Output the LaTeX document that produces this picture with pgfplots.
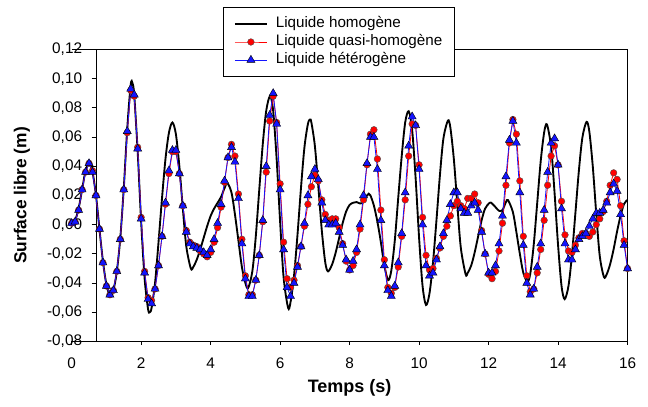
\documentclass[border=0pt]{standalone}
\usepackage{fontspec}
\setmainfont{Liberation Sans}
\usepackage{pgfplots}
\usepackage{pgfplotstable}
\pgfplotsset{compat=1.18}

\definecolor{redq}{RGB}{255,0,0}
\definecolor{blueh}{RGB}{20,20,255}

% liquide homogene (courbe continue)
\pgfplotstableread{
t v
0.0 0.000
0.1 0.003
0.2 0.011
0.3 0.024
0.4 0.037
0.5 0.042
0.6 0.036
0.7 0.020
0.8 -0.003
0.9 -0.025
1.0 -0.041
1.1 -0.048
1.2 -0.045
1.3 -0.032
1.4 -0.009
1.5 0.025
1.6 0.066
1.7 0.096
1.75 0.097
1.8 0.089
1.9 0.050
2.0 0.002
2.1 -0.037
2.2 -0.058
2.25 -0.060
2.3 -0.057
2.4 -0.040
2.5 -0.012
2.6 0.018
2.7 0.045
2.8 0.063
2.9 0.070
3.0 0.062
3.1 0.040
3.2 0.011
3.3 -0.015
3.43 -0.030
3.5 -0.029
3.6 -0.024
3.7 -0.017
3.8 -0.009
3.9 -0.001
4.0 0.006
4.1 0.011
4.2 0.015
4.3 0.019
4.4 0.025
4.48 0.0285
4.6 0.022
4.7 0.007
4.8 -0.011
4.9 -0.029
5.0 -0.040
5.08 -0.0434
5.2 -0.032
5.3 -0.008
5.4 0.024
5.5 0.055
5.6 0.078
5.71 0.088
5.8 0.078
5.9 0.045
6.0 0.002
6.1 -0.036
6.23 -0.057
6.3 -0.053
6.4 -0.035
6.5 -0.007
6.6 0.025
6.7 0.053
6.8 0.069
6.86 0.072
6.9 0.070
7.0 0.054
7.1 0.026
7.2 -0.004
7.3 -0.026
7.38 -0.032
7.5 -0.027
7.6 -0.019
7.7 -0.009
7.8 0.001
7.9 0.009
8.0 0.0135
8.1 0.015
8.2 0.0155
8.3 0.0145
8.4 0.0155
8.5 0.020
8.55 0.0212
8.6 0.020
8.7 0.013
8.8 0.002
8.9 -0.012
9.0 -0.028
9.11 -0.038
9.2 -0.0315
9.3 -0.011
9.4 0.0185
9.5 0.047
9.6 0.070
9.70 0.0777
9.8 0.065
9.9 0.032
10.0 -0.009
10.1 -0.042
10.2 -0.055
10.3 -0.047
10.4 -0.026
10.5 0.003
10.6 0.034
10.7 0.059
10.83 0.0713
10.9 0.0665
11.0 0.045
11.1 0.014
11.2 -0.0156
11.34 -0.034
11.4 -0.033
11.5 -0.028
11.6 -0.019
11.7 -0.008
11.8 0.003
11.9 0.011
12.03 0.015
12.1 0.0145
12.2 0.012
12.3 0.0095
12.4 0.010
12.5 0.0155
12.56 0.0168
12.7 0.0086
12.8 -0.005
12.9 -0.020
13.0 -0.033
13.12 -0.039
13.2 -0.0336
13.3 -0.0137
13.4 0.0148
13.5 0.0433
13.6 0.0632
13.68 0.0686
13.8 0.053
13.9 0.0216
14.0 -0.0139
14.1 -0.042
14.19 -0.051
14.3 -0.042
14.4 -0.0207
14.5 0.0082
14.6 0.0371
14.7 0.0596
14.82 0.0704
14.9 0.0638
15.0 0.0398
15.1 0.0073
15.2 -0.0214
15.32 -0.0358
15.4 -0.034
15.5 -0.027
15.6 -0.0167
15.7 -0.0045
15.8 0.0062
15.9 0.0142
16.0 0.017
}\homog

% liquide quasi-homogene
\pgfplotstableread{
t v
0.0 0.001
0.1 0.002
0.2 0.010
0.3 0.024
0.4 0.036
0.5 0.042
0.6 0.037
0.7 0.020
0.8 -0.003
0.9 -0.026
1.0 -0.042
1.1 -0.048
1.2 -0.045
1.3 -0.032
1.4 -0.010
1.5 0.024
1.6 0.063
1.7 0.092
1.8 0.088
1.9 0.053
2.0 0.005
2.1 -0.032
2.2 -0.050
2.3 -0.052
2.4 -0.044
2.5 -0.028
2.6 -0.008
2.7 0.014
2.8 0.035
2.9 0.050
3.0 0.050
3.1 0.035
3.2 0.013
3.3 -0.004
3.4 -0.012
3.5 -0.014
3.6 -0.015
3.7 -0.018
3.8 -0.020
3.9 -0.022
4.0 -0.019
4.1 -0.012
4.2 -0.002
4.3 0.012
4.4 0.029
4.5 0.046
4.6 0.055
4.7 0.047
4.8 0.021
4.9 -0.010
5.0 -0.035
5.1 -0.048
5.2 -0.048
5.3 -0.038
5.4 -0.021
5.5 0.002
5.6 0.036
5.7 0.071
5.8 0.088
5.9 0.070
6.0 0.028
6.1 -0.012
6.2 -0.037
6.3 -0.043
6.4 -0.038
6.5 -0.028
6.6 -0.015
6.7 -0.001
6.8 0.014
6.9 0.026
7.0 0.034
7.1 0.030
7.2 0.017
7.3 0.007
7.4 0.003
7.5 0.004
7.6 0.004
7.7 -0.002
7.8 -0.013
7.9 -0.025
8.0 -0.031
8.1 -0.028
8.2 -0.019
8.3 -0.003
8.4 0.017
8.5 0.041
8.6 0.062
8.7 0.065
8.8 0.045
8.9 0.010
9.0 -0.024
9.1 -0.043
9.2 -0.047
9.3 -0.043
9.4 -0.029
9.5 -0.008
9.6 0.017
9.7 0.047
9.8 0.069
9.9 0.068
10.0 0.041
10.1 0.005
10.2 -0.021
10.3 -0.031
10.4 -0.030
10.5 -0.023
10.6 -0.016
10.7 -0.008
10.8 -0.001
10.9 0.006
11.0 0.013
11.1 0.016
11.2 0.013
11.3 0.011
11.4 0.018
11.5 0.018
11.6 0.021
11.7 0.015
11.8 -0.004
11.9 -0.020
12.0 -0.034
12.1 -0.037
12.2 -0.032
12.3 -0.018
12.4 0.001
12.5 0.027
12.6 0.056
12.7 0.072
12.8 0.062
12.9 0.030
13.0 -0.008
13.1 -0.035
13.2 -0.046
13.3 -0.044
13.4 -0.033
13.5 -0.017
13.6 0.003
13.7 0.027
13.8 0.047
13.9 0.054
14.0 0.041
14.1 0.016
14.2 -0.007
14.3 -0.018
14.4 -0.019
14.5 -0.014
14.6 -0.009
14.7 -0.006
14.8 -0.006
14.9 -0.008
15.0 -0.005
15.1 0.000
15.2 0.004
15.3 0.009
15.4 0.016
15.5 0.027
15.6 0.0355
15.7 0.031
15.8 0.013
15.9 -0.011
16.0 -0.030
}\quasi

% liquide heterogene
\pgfplotstableread{
t v
0.0 0.001
0.1 0.002
0.2 0.010
0.3 0.024
0.4 0.036
0.5 0.042
0.6 0.036
0.7 0.020
0.8 -0.003
0.9 -0.026
1.0 -0.042
1.1 -0.048
1.2 -0.045
1.3 -0.032
1.4 -0.010
1.5 0.024
1.6 0.064
1.7 0.093
1.8 0.089
1.9 0.052
2.0 0.004
2.1 -0.033
2.2 -0.051
2.3 -0.054
2.4 -0.044
2.5 -0.028
2.6 -0.008
2.7 0.015
2.8 0.037
2.9 0.051
3.0 0.051
3.1 0.035
3.2 0.013
3.3 -0.005
3.4 -0.013
3.5 -0.015
3.6 -0.016
3.7 -0.017
3.8 -0.019
3.9 -0.021
4.0 -0.017
4.1 -0.010
4.2 0.001
4.3 0.014
4.4 0.030
4.5 0.046
4.6 0.053
4.7 0.043
4.8 0.018
4.9 -0.013
5.0 -0.037
5.1 -0.049
5.2 -0.049
5.3 -0.038
5.4 -0.021
5.5 0.003
5.6 0.040
5.7 0.075
5.8 0.090
5.9 0.069
6.0 0.024
6.1 -0.017
6.2 -0.043
6.3 -0.049
6.4 -0.040
6.5 -0.029
6.6 -0.015
6.7 0.001
6.8 0.020
6.9 0.033
7.0 0.038
7.1 0.031
7.2 0.015
7.3 0.003
7.4 0.000
7.5 0.000
7.6 0.001
7.7 -0.005
7.8 -0.014
7.9 -0.024
8.0 -0.031
8.1 -0.025
8.2 -0.017
8.3 0.000
8.4 0.020
8.5 0.042
8.6 0.060
8.7 0.060
8.8 0.038
8.9 0.003
9.0 -0.028
9.1 -0.045
9.2 -0.049
9.3 -0.042
9.4 -0.026
9.5 -0.006
9.6 0.022
9.7 0.054
9.8 0.074
9.9 0.068
10.0 0.038
10.1 0.000
10.2 -0.028
10.3 -0.035
10.4 -0.033
10.5 -0.024
10.6 -0.015
10.7 -0.006
10.8 0.003
10.9 0.014
11.0 0.022
11.1 0.022
11.2 0.011
11.3 0.008
11.4 0.008
11.5 0.013
11.6 0.015
11.7 0.010
11.8 -0.005
11.9 -0.020
12.0 -0.033
12.1 -0.033
12.2 -0.028
12.3 -0.013
12.4 0.006
12.5 0.033
12.6 0.058
12.7 0.071
12.8 0.056
12.9 0.022
13.0 -0.014
13.1 -0.040
13.2 -0.048
13.3 -0.044
13.4 -0.029
13.5 -0.013
13.6 0.010
13.7 0.036
13.8 0.056
13.9 0.059
14.0 0.041
14.1 0.011
14.2 -0.013
14.3 -0.024
14.4 -0.024
14.5 -0.017
14.6 -0.010
14.7 -0.008
14.8 -0.006
14.9 -0.001
15.0 0.004
15.1 0.008
15.2 0.008
15.3 0.010
15.4 0.015
15.5 0.022
15.6 0.028
15.7 0.023
15.8 0.007
15.9 -0.014
16.0 -0.030
}\hetero

\begin{document}
\begin{tikzpicture}
\useasboundingbox (-72.5pt,-49.1pt) rectangle (413.5pt,256.1pt);

% cadre + axe des ordonnees (commence vers t = 0,72 s comme dans l'original)
\begin{axis}[
  at={(0pt,0pt)}, anchor=south west,
  scale only axis, width=398.1pt, height=219pt,
  xmin=0.717, xmax=16, ymin=-0.08, ymax=0.12,
  axis line style={line width=0.7pt},
  xtick=\empty,
  ytick={-0.08,-0.06,-0.04,-0.02,0,0.02,0.04,0.06,0.08,0.10,0.12},
  yticklabels={{-0,08},{-0,06},{-0,04},{-0,02},{0,00},{0,02},{0,04},{0,06},{0,08},{0,10},{0,12}},
  ytick pos=left, tick align=outside, major tick length=3.75pt,
  tick style={black, line width=0.6pt},
  yticklabel style={font=\fontsize{11.5}{13}\selectfont, anchor=east, inner sep=0pt, xshift=-7pt},
  ylabel={\bfseries Surface libre (m)},
  ylabel style={font=\fontsize{13}{15}\selectfont, at={(axis description cs:-0.1407,0.5)}, anchor=center},
]
\end{axis}

% axe des temps + courbes
\begin{axis}[
  at={(-18.75pt,0pt)}, anchor=south west,
  scale only axis, width=416.9pt, height=219pt,
  xmin=0, xmax=16, ymin=-0.08, ymax=0.12,
  axis x line*=box, axis y line=none,
  axis line style={line width=0.7pt},
  xtick={0,2,4,6,8,10,12,14,16}, xtick pos=bottom,
  tick align=outside, major tick length=2.5pt,
  tick style={black, line width=0.6pt},
  /pgf/number format/assume math mode=true,
  xticklabel style={font=\fontsize{11.5}{13}\selectfont, anchor=north, inner sep=0pt, yshift=-9.5pt},
  xlabel={\bfseries Temps (s)},
  xlabel style={font=\fontsize{13.5}{15}\selectfont, at={(axis description cs:0.5,-0.1598)}, anchor=center},
  clip=false,
  legend cell align=left,
  legend style={at={(0.2721,1.1457)}, anchor=north west, draw=black, line width=0.6pt,
    fill=white, inner xsep=8pt, inner ysep=6pt, row sep=0.5pt, column sep=5pt,
    nodes={inner sep=1pt, text height=8.5pt, text depth=2.5pt,
      font=\fontsize{11.4}{13}\selectfont}},
  legend image code/.code={\draw[mark repeat=2,mark phase=2,#1]
    plot coordinates {(0pt,0pt) (12pt,0pt) (24pt,0pt)};},
]
\addplot[black, line width=1.4pt, smooth, no markers] table[x=t,y=v] {\homog};
\addlegendentry{Liquide homogène}
\addplot[redq, line width=0.6pt, mark=*, mark size=2.5pt,
  mark options={fill=redq, draw=black!70, line width=0.3pt}] table[x=t,y=v] {\quasi};
\addlegendentry{Liquide quasi-homogène}
\addplot[blueh, line width=0.6pt, mark=triangle*, mark size=3.5pt,
  mark options={fill=blueh, draw=black, line width=0.3pt}] table[x=t,y=v] {\hetero};
\addlegendentry{Liquide hétérogène}
\end{axis}
\end{tikzpicture}
\end{document}
